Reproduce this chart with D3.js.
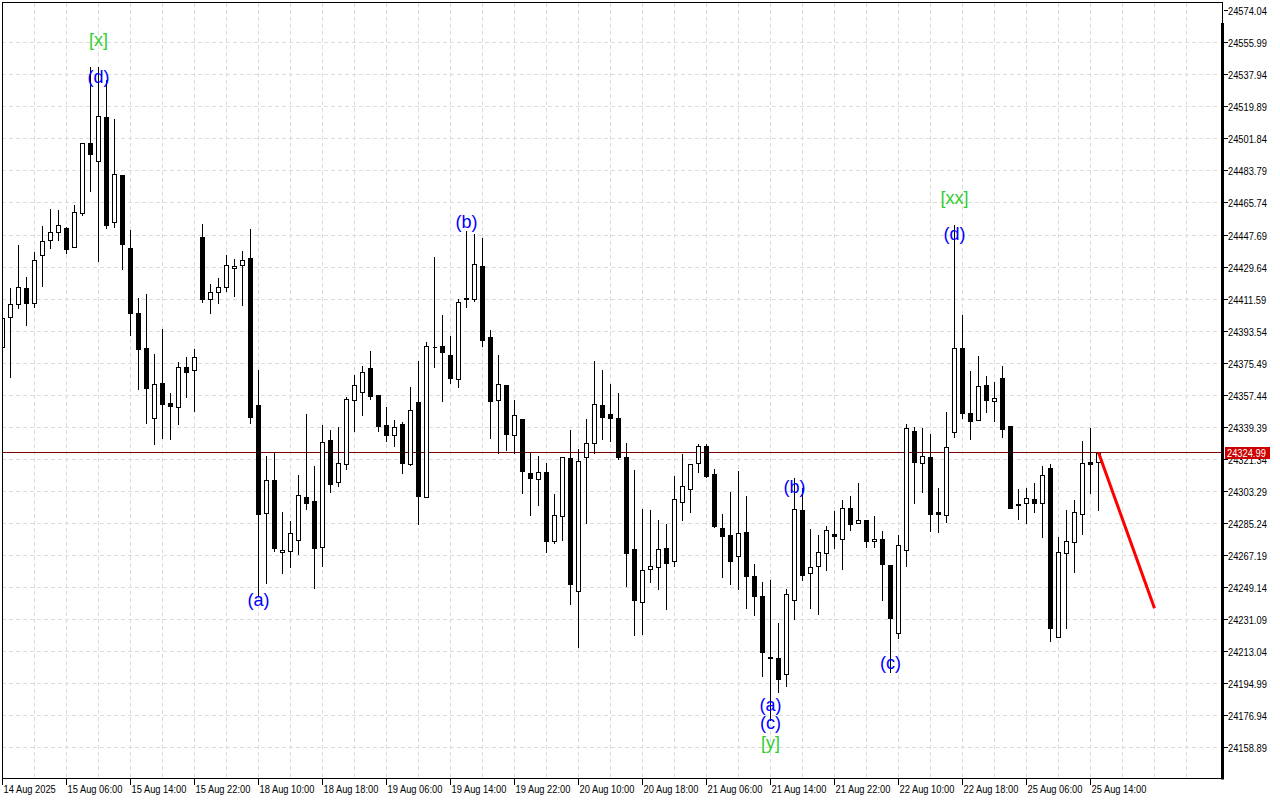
<!DOCTYPE html>
<html><head><meta charset="utf-8">
<script src="https://cdn.jsdelivr.net/npm/d3@7/dist/d3.min.js"></script>
<style>
html,body{margin:0;padding:0;background:#fff;}
svg{display:block;}
.ax{font-family:"Liberation Sans",Arial,sans-serif;font-size:11.5px;fill:#000;}
.wl{font-family:"Liberation Sans",Arial,sans-serif;font-size:18px;}
</style></head>
<body>
<svg id="c" width="1280" height="800"></svg>
<script>
const open = [24384.5,24401.4,24408.8,24417.8,24409.3,24436.4,24444.9,24449.4,24451.6,24440.9,24460.1,24499.6,24489.4,24514.3,24455.0,24481.5,24440.4,24403.7,24384.0,24344.5,24364.2,24352.9,24350.7,24373.2,24371.6,24446.6,24411.6,24415.5,24418.4,24429.1,24430.8,24434.7,24351.8,24290.9,24309.5,24268.9,24269.4,24275.7,24299.9,24297.7,24271.7,24332.1,24308.4,24318.5,24354.6,24359.1,24372.7,24357.4,24340.5,24334.9,24341.1,24318.5,24353.5,24299.9,24384.3,24385.1,24380.0,24366.5,24412.2,24411.6,24430.2,24390.2,24354.6,24363.1,24334.9,24343.9,24313.4,24310.1,24314.0,24275.1,24289.2,24321.9,24246.9,24322.5,24330.4,24351.8,24346.7,24344.5,24322.5,24270.6,24240.7,24259.3,24260.4,24271.1,24263.8,24297.1,24304.4,24319.1,24328.7,24312.9,24282.4,24278.5,24266.6,24280.2,24255.3,24244.1,24209.7,24209.1,24200.1,24241.8,24292.6,24257.0,24261.0,24268.3,24279.0,24276.2,24293.7,24285.2,24286.9,24275.1,24276.2,24261.6,24223.2,24270.0,24337.1,24319.1,24322.5,24291.4,24289.8,24336.6,24384.0,24347.3,24343.3,24363.1,24354.1,24367.0,24340.0,24296.0,24296.5,24298.8,24296.5,24316.3,24220.9,24268.3,24274.5,24290.3,24319.7,24319.7];
const high = [24408.2,24417.8,24442.1,24424.0,24438.1,24452.8,24462.4,24461.8,24452.2,24464.6,24499.6,24542.5,24542.5,24535.1,24513.1,24481.5,24450.5,24412.2,24414.4,24380.6,24394.7,24358.6,24376.1,24378.9,24383.4,24453.9,24420.1,24423.4,24436.4,24434.2,24438.7,24451.1,24371.6,24323.0,24324.7,24291.4,24286.4,24312.3,24346.7,24317.4,24340.5,24337.7,24339.4,24356.3,24368.7,24373.8,24382.3,24357.4,24350.7,24343.3,24342.2,24362.0,24376.6,24387.3,24435.3,24402.6,24390.7,24411.6,24449.9,24448.3,24446.0,24394.1,24380.0,24363.1,24354.6,24343.9,24324.7,24323.0,24319.1,24301.6,24322.5,24337.7,24327.0,24343.9,24376.6,24371.6,24363.7,24358.6,24330.4,24315.1,24293.1,24292.6,24286.9,24284.7,24311.8,24324.2,24318.5,24329.8,24329.8,24315.7,24290.3,24302.7,24314.6,24300.5,24262.1,24252.0,24253.1,24228.8,24248.0,24310.6,24305.0,24281.9,24278.5,24283.5,24292.0,24298.2,24300.5,24307.8,24286.9,24289.2,24280.7,24261.6,24278.5,24341.1,24339.4,24338.8,24335.4,24305.0,24347.9,24453.3,24402.6,24371.0,24379.4,24368.2,24364.8,24373.8,24340.0,24304.4,24305.0,24307.8,24317.4,24318.5,24277.3,24292.6,24298.2,24331.5,24338.8,24324.99];
const low = [24368.2,24367.6,24406.5,24396.9,24407.1,24418.9,24440.4,24444.9,24437.5,24440.9,24459.0,24472.5,24433.0,24451.6,24452.2,24428.5,24391.3,24360.8,24341.7,24329.8,24333.2,24332.6,24341.1,24356.3,24348.4,24409.9,24403.7,24409.3,24416.1,24413.3,24408.2,24341.7,24244.6,24251.4,24269.4,24257.0,24260.4,24267.8,24293.1,24248.6,24261.0,24302.7,24306.1,24315.7,24337.1,24346.2,24355.2,24337.1,24331.5,24328.7,24313.4,24318.0,24284.7,24299.9,24373.2,24354.1,24364.2,24362.0,24407.1,24410.5,24385.1,24333.2,24324.7,24326.4,24324.7,24302.2,24289.8,24295.4,24268.9,24274.0,24275.7,24239.6,24215.3,24285.2,24324.7,24332.6,24331.5,24321.3,24249.7,24222.1,24222.6,24252.0,24248.0,24236.7,24261.0,24286.9,24291.4,24314.0,24311.2,24283.0,24254.8,24250.8,24248.0,24237.3,24233.4,24198.9,24174.1,24189.9,24193.3,24231.1,24253.1,24237.3,24233.9,24258.7,24271.1,24259.3,24281.3,24285.2,24271.7,24271.7,24241.8,24201.2,24220.4,24261.0,24296.5,24302.7,24280.7,24280.2,24285.8,24333.8,24344.5,24332.6,24343.3,24347.9,24342.8,24333.8,24293.7,24287.5,24285.2,24291.4,24277.3,24218.7,24220.9,24226.0,24257.6,24279.0,24302.2,24292.6];
const close = [24400.9,24408.8,24418.4,24409.3,24433.6,24444.3,24449.4,24453.3,24439.8,24460.7,24499.6,24493.4,24514.8,24453.3,24482.1,24442.6,24403.7,24383.4,24361.4,24363.7,24352.4,24351.2,24373.2,24370.4,24378.9,24411.6,24415.5,24418.4,24430.8,24430.2,24433.6,24345.0,24290.3,24309.5,24271.1,24270.0,24279.6,24301.0,24296.5,24271.1,24330.9,24307.2,24319.1,24355.2,24363.1,24370.4,24356.9,24340.0,24334.9,24339.4,24319.1,24349.0,24300.5,24385.1,24384.6,24381.7,24367.0,24409.9,24411.6,24431.3,24388.5,24354.1,24363.7,24335.4,24346.2,24314.6,24310.6,24314.0,24275.1,24289.8,24322.5,24250.8,24320.2,24330.4,24352.4,24345.0,24344.5,24322.5,24268.3,24241.8,24258.7,24261.0,24270.6,24262.7,24298.8,24306.1,24318.5,24328.7,24311.8,24283.5,24277.9,24263.8,24279.6,24255.3,24244.1,24212.5,24209.1,24197.3,24245.2,24293.1,24255.9,24260.4,24268.9,24281.3,24277.9,24293.7,24284.7,24286.9,24275.1,24276.2,24262.1,24231.7,24272.8,24338.8,24319.7,24323.0,24290.3,24290.3,24328.1,24384.0,24347.3,24342.8,24362.5,24354.6,24355.8,24338.3,24293.7,24295.4,24299.3,24296.5,24312.3,24226.0,24268.9,24275.1,24291.4,24319.1,24318.5,24324.99];

const priceTickLabels = ["24574.04","24555.99","24537.94","24519.89","24501.84","24483.79","24465.74","24447.69","24429.64","24411.59","24393.54","24375.49","24357.44","24339.39","24321.34","24303.29","24285.24","24267.19","24249.14","24231.09","24213.04","24194.99","24176.94","24158.89"];
const timeTickIdx = [0,8,16,24,32,40,48,56,64,72,80,88,96,104,112,120,128,136];
const timeTickLabels = ["14 Aug 2025","15 Aug 06:00","15 Aug 14:00","15 Aug 22:00","18 Aug 10:00","18 Aug 18:00","19 Aug 06:00","19 Aug 14:00","19 Aug 22:00","20 Aug 10:00","20 Aug 18:00","21 Aug 06:00","21 Aug 14:00","21 Aug 22:00","22 Aug 10:00","22 Aug 18:00","25 Aug 06:00","25 Aug 14:00"];

const currentPrice = 24324.99;
const forecastIdx = [137, 144];
const forecastPrice = [24324.99, 24237.1];

const waveText  = ["[x]","(d)","(a)","(b)","(a)","(c)","[y]","(b)","(c)","[xx]","(d)"];
const waveIdx   = [12,12,32,58,96,96,96,99,111,119,119];
const wavePrice = [24557.7,24536.8,24241.8,24455.0,24182.6,24172.4,24161.2,24305.5,24206.3,24468.6,24448.3];
const waveLevel = ["major","minor","minor","minor","minor","minor","major","minor","minor","major","minor"];

const svg = d3.select("#c");
const L = 2, T = 2.5, R = 1222, B = 778.5;
const SX = 0.81;

const x = d3.scaleLinear().domain([0, 137]).range([2.5, 1098.5]);
const y = d3.scaleLinear().domain([24141.41, 24578.55]).range([778, 3]);

svg.append("rect").attr("width",1280).attr("height",800).attr("fill","#fff");

// grid
const g = svg.append("g").attr("stroke","#dcdcdc").attr("stroke-dasharray","4,3").attr("shape-rendering","crispEdges");
priceTickLabels.slice(1).forEach(s => {
  const yy = Math.floor(y(+s)) + 0.5;
  g.append("line").attr("x1",L).attr("x2",R).attr("y1",yy).attr("y2",yy);
});
d3.range(4, 149, 4).forEach(i => {
  const xx = Math.floor(x(i)) + 0.5;
  if (xx < R - 4) g.append("line").attr("x1",xx).attr("x2",xx).attr("y1",T).attr("y2",B);
});

// current price line
const cy = Math.floor(y(currentPrice)) + 0.5;
svg.append("line").attr("x1",L).attr("x2",R).attr("y1",cy).attr("y2",cy)
  .attr("stroke","#7d0000").attr("stroke-width",1).attr("shape-rendering","crispEdges");

// candles
svg.append("clipPath").attr("id","clip").append("rect").attr("x",L).attr("y",T).attr("width",R-L).attr("height",B-T);
const cg = svg.append("g").attr("clip-path","url(#clip)").attr("shape-rendering","crispEdges");
open.forEach((o,i) => {
  const c = close[i];
  const px = Math.floor(x(i));
  const yh = Math.round(y(high[i])), yl = Math.round(y(low[i]));
  cg.append("line").attr("x1",px+0.5).attr("x2",px+0.5).attr("y1",yh).attr("y2",yl+1).attr("stroke","#000");
  const top = Math.round(y(Math.max(o,c))), bot = Math.round(y(Math.min(o,c)));
  if (c >= o) {
    const h = Math.max(0, bot - top);
    cg.append("path").attr("d",`M${px-1.5},${top+0.5}H${px+2.5}V${top+0.5+h}H${px-1.5}Z`)
      .attr("fill","#fff").attr("stroke","#000").attr("stroke-width",1);
  } else {
    cg.append("rect").attr("x",px-2).attr("y",top).attr("width",5).attr("height",Math.max(1,bot-top+1)).attr("fill","#000");
  }
});

// forecast line
svg.append("line")
  .attr("x1",x(forecastIdx[0])).attr("y1",y(forecastPrice[0]))
  .attr("x2",x(forecastIdx[1])).attr("y2",y(forecastPrice[1]))
  .attr("stroke","#ff0000").attr("stroke-width",3);

// wave labels
waveText.forEach((t,i) => {
  svg.append("text").attr("class","wl")
    .attr("x", x(waveIdx[i])).attr("y", y(wavePrice[i]))
    .attr("text-anchor","middle").attr("dominant-baseline","central")
    .attr("fill", waveLevel[i] === "major" ? "#32cd32" : "#0000ff")
    .text(t);
});

// frame
svg.append("rect").attr("x",L+0.5).attr("y",T).attr("width",R-L).attr("height",B-T)
  .attr("fill","none").attr("stroke","#000").attr("shape-rendering","crispEdges");
svg.append("rect").attr("x",R-1).attr("y",23).attr("width",3).attr("height",B-23+1).attr("fill","#000");

function axText(sel, tx, ty, s, fill) {
  return sel.append("text").attr("class","ax")
    .attr("transform",`translate(${tx},${ty}) scale(${SX},1)`)
    .style("fill", fill || "#000").text(s);
}

// right axis
const ra = svg.append("g");
priceTickLabels.forEach(s => {
  const yy = Math.floor(y(+s)) + 0.5;
  ra.append("line").attr("x1",R+2).attr("x2",R+6).attr("y1",yy).attr("y2",yy).attr("stroke","#000").attr("shape-rendering","crispEdges");
  if (s !== "24321.34") axText(ra, R+6, yy+4, s);
});
// tick label partly covered by the price box, as in the source
const yHidden = Math.floor(y(24321.34)) + 0.5;
ra.append("clipPath").attr("id","hclip").append("rect").attr("x",R+3).attr("y",cy+6.5).attr("width",60).attr("height",20);
axText(ra.append("g").attr("clip-path","url(#hclip)"), R+6, yHidden+4, "24321.34");
// price box
ra.append("rect").attr("x",R+3).attr("y",cy-5.5).attr("width",45).attr("height",12).attr("fill","#cc0000");
axText(ra, R+5, cy+4.5, currentPrice.toFixed(2), "#fff");

// bottom axis
const ba = svg.append("g");
timeTickIdx.forEach((idx,k) => {
  const xx = Math.floor(x(idx)) + 0.5;
  ba.append("line").attr("x1",xx).attr("x2",xx).attr("y1",B).attr("y2",B+6).attr("stroke","#000").attr("shape-rendering","crispEdges");
  axText(ba, xx+1, 793, timeTickLabels[k]);
});
</script>
</body></html>
